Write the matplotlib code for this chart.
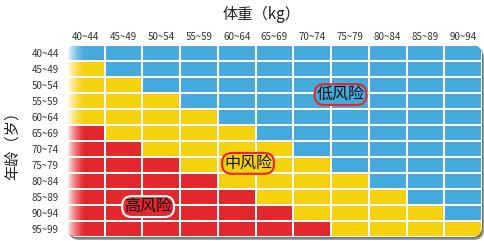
import matplotlib
matplotlib.use('Agg')
import matplotlib.pyplot as plt
import numpy as np
from matplotlib.colors import ListedColormap
from matplotlib.patches import FancyBboxPatch

plt.rcParams['font.family'] = ['Noto Sans CJK SC', 'DejaVu Sans']

weight_labels = ['40~44', '45~49', '50~54', '55~59', '60~64', '65~69',
                 '70~74', '75~79', '80~84', '85~89', '90~94']
age_labels = ['40~44', '45~49', '50~54', '55~59', '60~64', '65~69',
              '70~74', '75~79', '80~84', '85~89', '90~94', '95~99']
# risk level: 0 = low, 1 = medium, 2 = high
risk = [
    [0, 0, 0, 0, 0, 0, 0, 0, 0, 0, 0],
    [1, 0, 0, 0, 0, 0, 0, 0, 0, 0, 0],
    [1, 1, 0, 0, 0, 0, 0, 0, 0, 0, 0],
    [1, 1, 1, 0, 0, 0, 0, 0, 0, 0, 0],
    [1, 1, 1, 1, 0, 0, 0, 0, 0, 0, 0],
    [2, 1, 1, 1, 1, 0, 0, 0, 0, 0, 0],
    [2, 2, 1, 1, 1, 1, 0, 0, 0, 0, 0],
    [2, 2, 2, 1, 1, 1, 1, 0, 0, 0, 0],
    [2, 2, 2, 2, 1, 1, 1, 1, 0, 0, 0],
    [2, 2, 2, 2, 2, 1, 1, 1, 1, 0, 0],
    [2, 2, 2, 2, 2, 2, 1, 1, 1, 1, 0],
    [2, 2, 2, 2, 2, 2, 2, 1, 1, 1, 1],
]
risk_names = ['低风险', '中风险', '高风险']
risk_colors = ['#46AADC', '#F6D10E', '#E3282D']

W, H = 484, 241
fig = plt.figure(figsize=(W / 100, H / 100), dpi=100)
gx0, gx1, gy0, gy1 = 67, 482, 45, 237
ax = fig.add_axes([gx0 / W, 1 - gy1 / H, (gx1 - gx0) / W, (gy1 - gy0) / H])

ncol, nrow = len(weight_labels), len(age_labels)
ax.set_xlim(0, ncol)
ax.set_ylim(nrow, 0)

px_x = (gx1 - gx0) / ncol
px_y = (gy1 - gy0) / nrow
m_aspect = px_x / px_y
rs = 10 / px_x

# shadow
sh = FancyBboxPatch((0 + 2 / px_x, 0 + 3 / px_y), ncol, nrow,
                    boxstyle=f'round,pad=0,rounding_size={rs}',
                    mutation_aspect=m_aspect, fc='#a0a0a0', ec='none',
                    zorder=0, clip_on=False, transform=ax.transData)
ax.add_patch(sh)
sh2 = FancyBboxPatch((0 + 1 / px_x, 0 + 1.5 / px_y), ncol, nrow,
                     boxstyle=f'round,pad=0,rounding_size={rs}',
                     mutation_aspect=m_aspect, fc='#707070', ec='none',
                     zorder=0.5, clip_on=False, transform=ax.transData)
ax.add_patch(sh2)

clip = FancyBboxPatch((0, 0), ncol, nrow,
                      boxstyle=f'round,pad=0,rounding_size={rs}',
                      mutation_aspect=m_aspect, fc='none', ec='none',
                      transform=ax.transData)

cmap = ListedColormap(risk_colors)
mesh = ax.pcolormesh(np.arange(ncol + 1), np.arange(nrow + 1), np.array(risk),
                     cmap=cmap, vmin=-0.5, vmax=2.5,
                     edgecolors='white', linewidth=1.1, zorder=1)
mesh.set_clip_path(clip)

# left white fade
fade_w = 0.5
g = np.linspace(0, 1, 64)
alpha = 0.97 * (1 - g) ** 1.6
rgba = np.ones((1, 64, 4))
rgba[0, :, 3] = alpha
im = ax.imshow(rgba, extent=[0, fade_w, nrow, 0], aspect='auto', zorder=2,
               interpolation='bilinear')
im.set_clip_path(clip)
ax.set_xlim(0, ncol)
ax.set_ylim(nrow, 0)

for s in ax.spines.values():
    s.set_visible(False)
ax.xaxis.tick_top()
ax.set_xticks(np.arange(ncol) + 0.5)
ax.set_xticklabels(weight_labels)
ax.set_yticks(np.arange(nrow) + 0.5)
ax.set_yticklabels(age_labels)
ax.tick_params(axis='x', length=0, pad=2.5, labelsize=7, colors='#333333')
ax.tick_params(axis='y', length=0, pad=6, labelsize=7, colors='#333333')

label_pos = [(7.25, 3.1), (4.8, 7.4), (2.15, 10.1)]
label_edges = ['#E3282D', '#E3282D', 'white']
for name, (x, y), fc, ec in zip(risk_names, label_pos, risk_colors, label_edges):
    ax.text(x, y, name, ha='center', va='center', fontsize=11.5, color='#111111',
            zorder=5,
            bbox=dict(boxstyle='round,pad=0.12,rounding_size=0.6',
                      fc=fc, ec=ec, lw=1.5))

fig.text(262 / W, 1 - 14 / H, '体重（kg）', ha='center', va='center',
         fontsize=11, color='#222222')
fig.text(12 / W, 1 - 142 / H, '年龄（岁）', ha='center', va='center',
         rotation=90, fontsize=11, color='#222222')

fig.savefig('out.png', dpi=100)
